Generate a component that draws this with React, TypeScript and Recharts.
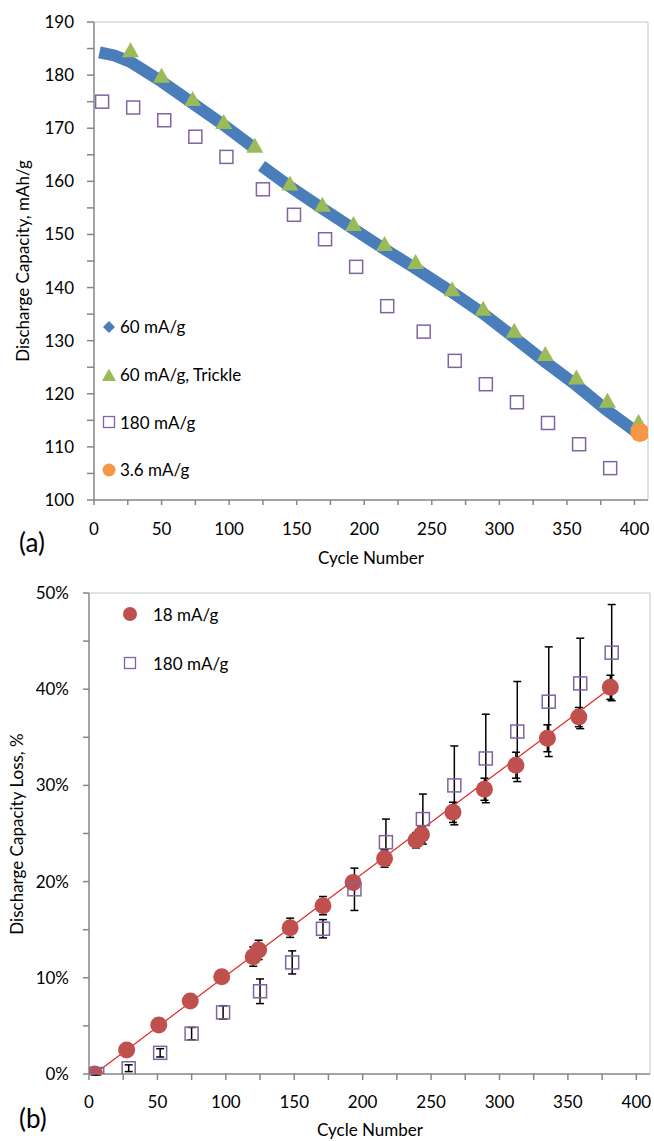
import React from 'react';
import {
  ComposedChart,
  Line,
  Scatter,
  XAxis,
  YAxis,
  ErrorBar,
  ReferenceLine,
  Legend,
  Label,
} from 'recharts';

const FONT = 'Lato, "Open Sans", sans-serif';
const AXIS = '#868686';
const BORDER = '#d9d9d9';

// colores tipo Office
const BLUE = '#4a7ebb';
const GREEN = '#9bbb59';
const PURPLE = '#8064a2';
const ORANGE = '#f79646';
const RED = '#c0504d';
const TREND = '#e8231f';

// ---- (a) Discharge capacity, mAh/g ----
const blueCycles = [4, 15, 27, 50, 73, 96, 118, 121, 124, 145, 169, 191, 214, 238, 265, 288, 310, 334, 357, 379, 402];
const blueCapacity = [184.3, 183.7, 182.5, 178.8, 174.7, 170.6, 166.4, null, 162.9, 159.0, 154.9, 151.2, 147.4, 143.6, 139.1, 135.1, 130.8, 126.0, 121.6, 117.0, 112.7];

const trickleCycles = [27, 50, 73, 96, 119, 145, 169, 192, 215, 238, 265, 288, 311, 334, 357, 380, 403];
const trickleCapacity = [184.5, 179.7, 175.3, 171.0, 166.5, 159.4, 155.4, 151.8, 148.0, 144.6, 139.5, 135.8, 131.7, 127.3, 122.9, 118.5, 114.5];

const fastCycles = [6, 29, 52, 75, 98, 125, 148, 171, 194, 217, 244, 267, 290, 313, 336, 359, 382];
const fastCapacity = [175.0, 173.9, 171.5, 168.4, 164.6, 158.5, 153.7, 149.1, 143.9, 136.5, 131.7, 126.2, 121.8, 118.4, 114.5, 110.5, 106.0];

const slowCycles = [404];
const slowCapacity = [112.7];

// ---- (b) Discharge capacity loss, % ----
const loss18Cycles = [4, 27.5, 51, 74, 97, 120, 124, 147, 171, 193, 216, 239, 243, 266, 289, 312, 335, 358, 381];
const loss18 = [0.0, 2.5, 5.1, 7.6, 10.1, 12.2, 12.9, 15.2, 17.5, 19.9, 22.4, 24.3, 24.9, 27.2, 29.6, 32.1, 34.9, 37.1, 40.2];
const loss18Err = [0.1, 0.15, 0.2, 0.25, 0.35, 1.0, 1.0, 1.0, 0.95, 0.7, 0.9, 0.8, 0.8, 1.05, 1.15, 1.35, 1.4, 1.0, 1.25];

const loss180Cycles = [6, 29, 52, 75, 98, 125, 148.5, 171, 194, 217, 244, 267, 290, 313, 336, 359, 382];
const loss180 = [0.0, 0.6, 2.2, 4.2, 6.4, 8.6, 11.6, 15.1, 19.2, 24.1, 26.5, 30.0, 32.8, 35.6, 38.7, 40.6, 43.8];
const loss180Err = [0.1, 0.35, 0.43, 0.64, 0.7, 1.28, 1.2, 0.95, 2.2, 2.4, 2.6, 4.1, 4.6, 5.2, 5.7, 4.7, 5.0];

const trendCycles = [4, 381];
const trendLoss = [0, 40.1];

// ejes
const xTicks = [0, 25, 50, 75, 100, 125, 150, 175, 200, 225, 250, 275, 300, 325, 350, 375, 400];
const capTicks = [100, 105, 110, 115, 120, 125, 130, 135, 140, 145, 150, 155, 160, 165, 170, 175, 180, 185, 190];
const lossTicks = [0, 5, 10, 15, 20, 25, 30, 35, 40, 45, 50];

const toPoints = (xs: number[], ys: (number | null)[], errs?: number[]) =>
  xs.map((x, i) => ({ x, y: ys[i], err: errs ? errs[i] : 0 }));

const tickStyle = { fill: '#000', fontSize: 17, fontFamily: FONT };
const axisLine = { stroke: AXIS, strokeWidth: 1.5 };

// marcadores
const TriangleShape = (p: any) => (
  <polygon
    points={`${p.cx},${p.cy - 9} ${p.cx + 8.5},${p.cy + 6} ${p.cx - 8.5},${p.cy + 6}`}
    fill={GREEN}
  />
);
const SquareShape = (p: any) => (
  <rect x={p.cx - 6.5} y={p.cy - 6.5} width={13} height={13} fill="none" stroke={PURPLE} strokeWidth={1.5} />
);
const OrangeDot = (p: any) => <circle cx={p.cx} cy={p.cy} r={9.5} fill={ORANGE} />;
const RedDot = (p: any) => <circle cx={p.cx} cy={p.cy} r={8.5} fill={RED} />;

function Icon({ kind }: { kind: string }) {
  return (
    <svg width={16} height={16} style={{ display: 'block', flex: 'none' }}>
      {kind === 'diamond' && <polygon points="8,2 14,8 8,14 2,8" fill={BLUE} />}
      {kind === 'triangle' && <polygon points="8,1.5 15,14 1,14" fill={GREEN} />}
      {kind === 'square' && <rect x={2.5} y={2.5} width={11} height={11} fill="none" stroke={PURPLE} strokeWidth={1.3} />}
      {kind === 'orange' && <circle cx={8} cy={8} r={6.5} fill={ORANGE} />}
      {kind === 'red' && <circle cx={8} cy={8} r={7} fill={RED} />}
    </svg>
  );
}

const legendA = [
  { kind: 'diamond', label: '60 mA/g' },
  { kind: 'triangle', label: '60 mA/g, Trickle' },
  { kind: 'square', label: '180 mA/g' },
  { kind: 'orange', label: '3.6 mA/g' },
];
const legendB = [
  { kind: 'red', label: '18 mA/g' },
  { kind: 'square', label: '180 mA/g' },
];

const renderLegend = (items: { kind: string; label: string }[], rowHeight: number, gap: number) => () => (
  <div style={{ fontFamily: FONT, fontSize: 17, color: '#000' }}>
    {items.map((it) => (
      <div key={it.label} style={{ display: 'flex', alignItems: 'center', height: rowHeight, whiteSpace: 'nowrap' }}>
        <Icon kind={it.kind} />
        <span style={{ marginLeft: gap }}>{it.label}</span>
      </div>
    ))}
  </div>
);

const textLabel = (text: string, x: number, y: number, size: number, rotate = false) => () => (
  <text
    x={x}
    y={y}
    textAnchor={rotate || text.length > 4 ? 'middle' : 'start'}
    transform={rotate ? `rotate(-90 ${x} ${y})` : undefined}
    fill="#000"
    fontSize={size}
    fontFamily={FONT}
  >
    {text}
  </text>
);

function CapacityChart() {
  return (
    <ComposedChart width={654} height={575} margin={{ top: 22, right: 6, left: 0, bottom: 0 }}>
      <XAxis
        type="number"
        dataKey="x"
        domain={[0, 410]}
        ticks={xTicks}
        interval={0}
        tickFormatter={(v: number) => (v % 50 === 0 ? String(v) : '')}
        tickSize={5}
        tickMargin={18}
        height={75}
        axisLine={axisLine}
        tickLine={axisLine}
        tick={tickStyle}
        allowDataOverflow
      >
        <Label content={textLabel('Cycle Number', 371, 564, 17)} />
        <Label content={textLabel('(a)', 19, 552, 26)} />
      </XAxis>
      <YAxis
        type="number"
        dataKey="y"
        domain={[100, 190]}
        ticks={capTicks}
        interval={0}
        tickFormatter={(v: number) => (v % 10 === 0 ? String(v) : '')}
        tickSize={7}
        tickMargin={13}
        width={94}
        axisLine={axisLine}
        tickLine={axisLine}
        tick={tickStyle}
        allowDataOverflow
      >
        <Label content={textLabel('Discharge Capacity, mAh/g', 29, 261, 17, true)} />
      </YAxis>
      <ReferenceLine y={190} stroke={BORDER} strokeWidth={1.5} />
      <ReferenceLine x={410} stroke={BORDER} strokeWidth={1.5} />
      <Line
        data={toPoints(blueCycles, blueCapacity)}
        dataKey="y"
        type="linear"
        stroke={BLUE}
        strokeWidth={12}
        dot={false}
        activeDot={false}
        connectNulls={false}
        isAnimationActive={false}
      />
      <Scatter data={toPoints(trickleCycles, trickleCapacity)} shape={TriangleShape} isAnimationActive={false} />
      <Scatter data={toPoints(fastCycles, fastCapacity)} shape={SquareShape} isAnimationActive={false} />
      <Scatter data={toPoints(slowCycles, slowCapacity)} shape={OrangeDot} isAnimationActive={false} />
      <Legend
        layout="vertical"
        align="center"
        verticalAlign="middle"
        content={renderLegend(legendA, 47.7, 3)}
        wrapperStyle={{ left: 101, top: 303, width: 220, height: 192 }}
      />
    </ComposedChart>
  );
}

function LossChart() {
  return (
    <ComposedChart width={654} height={567} margin={{ top: 18, right: 4, left: 0, bottom: 0 }}>
      <XAxis
        type="number"
        dataKey="x"
        domain={[0, 410]}
        ticks={xTicks}
        interval={0}
        tickFormatter={(v: number) => (v % 50 === 0 ? String(v) : '')}
        tickSize={6}
        tickMargin={16}
        height={68}
        axisLine={axisLine}
        tickLine={axisLine}
        tick={tickStyle}
        allowDataOverflow
      >
        <Label content={textLabel('Cycle Number', 370, 561, 17)} />
        <Label content={textLabel('(b)', 19, 553, 26)} />
      </XAxis>
      <YAxis
        type="number"
        dataKey="y"
        domain={[0, 50]}
        ticks={lossTicks}
        interval={0}
        tickFormatter={(v: number) => (v % 10 === 0 ? `${v}%` : '')}
        tickSize={6}
        tickMargin={14}
        width={89}
        axisLine={axisLine}
        tickLine={axisLine}
        tick={tickStyle}
        allowDataOverflow
      >
        <Label content={textLabel('Discharge Capacity Loss, %', 23, 259, 17, true)} />
      </YAxis>
      <ReferenceLine y={50} stroke={BORDER} strokeWidth={1.5} />
      <ReferenceLine x={410} stroke={BORDER} strokeWidth={1.5} />
      <Scatter data={toPoints(loss18Cycles, loss18, loss18Err)} shape={RedDot} isAnimationActive={false}>
        <ErrorBar dataKey="err" direction="y" width={4} stroke="#000" strokeWidth={1.5} isAnimationActive={false} />
      </Scatter>
      <Line
        data={toPoints(trendCycles, trendLoss)}
        dataKey="y"
        type="linear"
        stroke={TREND}
        strokeWidth={1.2}
        dot={false}
        activeDot={false}
        isAnimationActive={false}
      />
      <Scatter data={toPoints(loss180Cycles, loss180, loss180Err)} shape={SquareShape} isAnimationActive={false}>
        <ErrorBar dataKey="err" direction="y" width={4} stroke="#000" strokeWidth={1.5} isAnimationActive={false} />
      </Scatter>
      <Legend
        layout="vertical"
        align="center"
        verticalAlign="middle"
        content={renderLegend(legendB, 49, 15)}
        wrapperStyle={{ left: 122, top: 14.5, width: 200, height: 98 }}
      />
    </ComposedChart>
  );
}

export default function App() {
  return (
    <div style={{ position: 'absolute', left: 0, top: 0, width: 654, height: 1142, background: '#fff' }}>
      <CapacityChart />
      <LossChart />
    </div>
  );
}
